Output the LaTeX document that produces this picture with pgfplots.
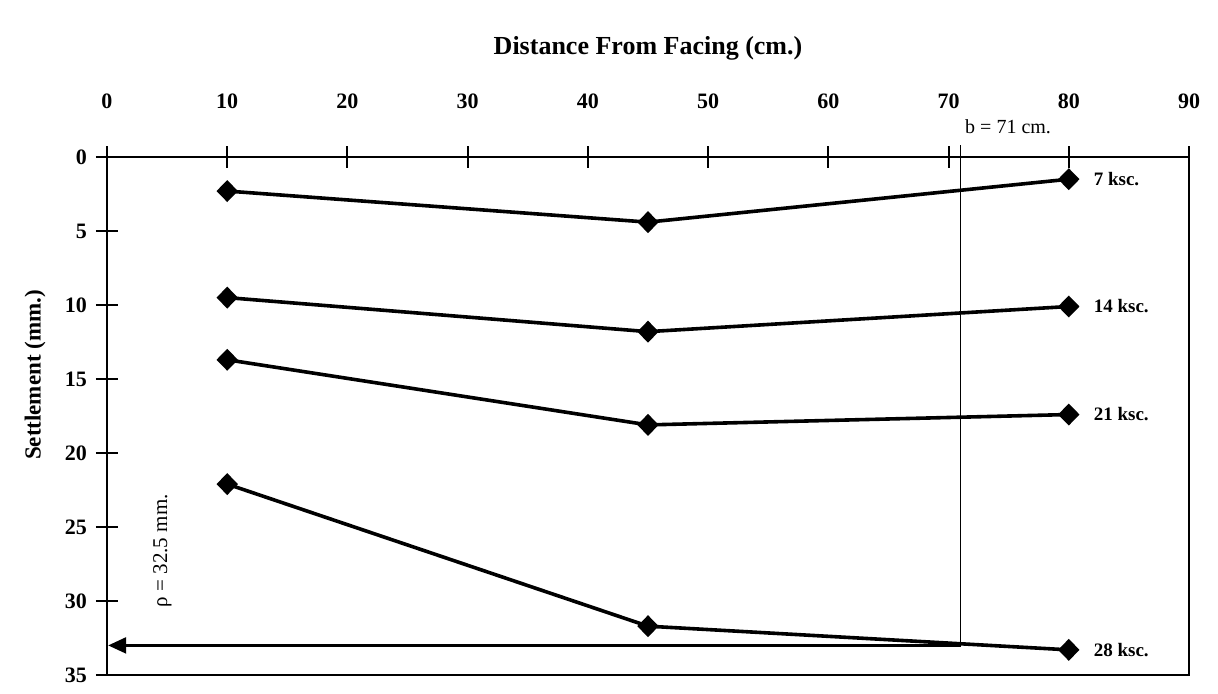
\documentclass[border=0pt]{standalone}
\usepackage{fontspec}
\setmainfont{Liberation Serif}
\usepackage{pgfplots}
\pgfplotsset{compat=1.18}
\usetikzlibrary{arrows.meta}
\begin{document}
\begin{tikzpicture}
\path[use as bounding box] (-53.5pt,-9pt) rectangle (555.5pt,337.5pt);
\begin{axis}[
  at={(0,0)}, anchor=south west,
  scale only axis, width=541pt, height=259pt,
  xmin=0, xmax=90, ymin=0, ymax=35, y dir=reverse,
  xtick={0,10,...,90}, ytick={0,5,...,35},
  xtick pos=upper, ytick pos=left,
  xticklabel pos=upper,
  tick align=center,
  major tick length=11pt,
  axis line style={line width=1.3pt},
  every tick/.style={black, line width=1pt},
  clip=false,
  /pgf/number format/assume math mode=true,
  ticklabel style={font=\fontsize{11}{13}\selectfont\bfseries},
  xticklabel style={yshift=15pt},
  yticklabel style={xshift=-1pt},
]
\addplot[black, line width=1.8pt, mark=diamond*, mark size=4.2pt, mark options={xscale=1.3}] coordinates {(10,2.3) (45,4.4) (80,1.5)};
\addplot[black, line width=1.8pt, mark=diamond*, mark size=4.2pt, mark options={xscale=1.3}] coordinates {(10,9.5) (45,11.8) (80,10.1)};
\addplot[black, line width=1.8pt, mark=diamond*, mark size=4.2pt, mark options={xscale=1.3}] coordinates {(10,13.7) (45,18.1) (80,17.4)};
\addplot[black, line width=1.8pt, mark=diamond*, mark size=4.2pt, mark options={xscale=1.3}] coordinates {(10,22.1) (45,31.7) (80,33.3)};
\draw[black, line width=0.9pt] (axis cs:71,-0.8) -- (axis cs:71,33.0);
\draw[black, line width=1.2pt, -{Triangle[length=9pt,width=8pt]}] (axis cs:71,33.0) -- (axis cs:0.1,33.0);
\node[anchor=west, font=\fontsize{9.5}{11}\selectfont\bfseries, xshift=9pt] at (axis cs:80,1.5) {7 ksc.};
\node[anchor=west, font=\fontsize{9.5}{11}\selectfont\bfseries, xshift=9pt] at (axis cs:80,10.1) {14 ksc.};
\node[anchor=west, font=\fontsize{9.5}{11}\selectfont\bfseries, xshift=9pt] at (axis cs:80,17.4) {21 ksc.};
\node[anchor=west, font=\fontsize{9.5}{11}\selectfont\bfseries, xshift=9pt] at (axis cs:80,33.3) {28 ksc.};
\node[anchor=south west, font=\fontsize{10}{12}\selectfont, yshift=8pt] at (axis cs:70.8,0) {b = 71 cm.};
\node[rotate=90, font=\fontsize{10.5}{12}\selectfont] at (axis cs:4.6,26.6) {ρ = 32.5 mm.};
\end{axis}
\node[font=\fontsize{13}{15}\selectfont\bfseries] at (270.5pt,313.5pt) {Distance From Facing (cm.)};
\node[rotate=90, font=\fontsize{11.5}{13}\selectfont\bfseries] at (-36pt,150pt) {Settlement (mm.)};
\end{tikzpicture}
\end{document}
